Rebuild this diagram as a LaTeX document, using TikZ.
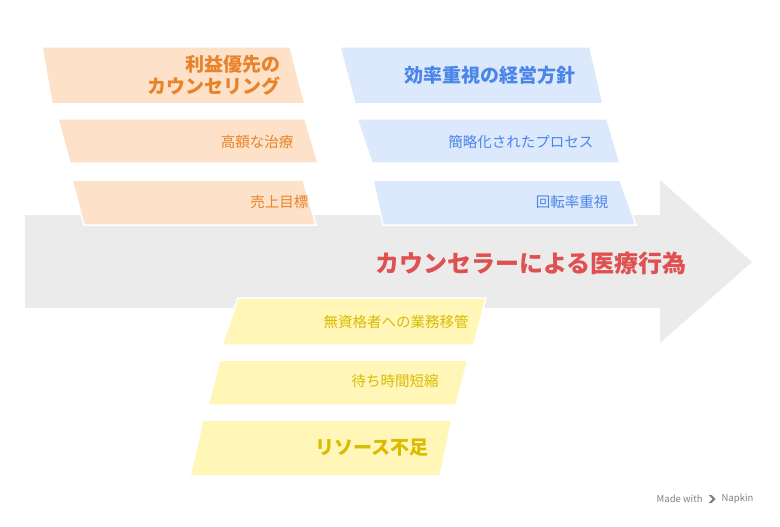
\documentclass[tikz,border=0pt]{standalone}
\usepackage{fontspec}
\setmainfont{Noto Sans CJK JP}
\definecolor{bandgray}{HTML}{EBEBEB}
\definecolor{orfill}{HTML}{FDE1C8}
\definecolor{ortext}{HTML}{E8832A}
\definecolor{blfill}{HTML}{DCE8FB}
\definecolor{bltext}{HTML}{4A86E8}
\definecolor{yefill}{HTML}{FFF6B8}
\definecolor{yetext}{HTML}{D9BC00}
\definecolor{titlered}{HTML}{E05050}
\tikzset{
  slab/.style={draw=white, line width=1.5pt},
  small/.style={font=\fontsize{14.5}{17}\selectfont},
  head/.style={font=\fontsize{19}{22}\selectfont\bfseries, align=right},
}
\begin{document}
\begin{tikzpicture}[x=1pt, y=-1pt]
  \useasboundingbox (0,0) rectangle (780,527);
  % band with arrow head
  \fill[bandgray] (25,215) -- (660,215) -- (660,180) -- (752,262)
    -- (660,343) -- (660,308) -- (25,308) -- cycle;

  % cost side
  \fill[orfill, slab] (42,47) -- (290,47) -- (305,104) -- (52,104) -- cycle;
  \fill[orfill, slab] (58,119) -- (305,119) -- (318,163) -- (70,163) -- cycle;
  \fill[orfill, slab] (72,180) -- (303,180) -- (316,225) -- (84,225) -- cycle;
  \node[head, text=ortext, anchor=east] (profit) at (284,75) {利益優先の\\カウンセリング};
  \node[small, text=ortext, anchor=east] (price) at (297,142) {高額な治療};
  \node[small, text=ortext, anchor=east] (sales) at (312,202) {売上目標};

  % efficiency side
  \fill[blfill, slab] (340,47) -- (590,47) -- (603,104) -- (355,104) -- cycle;
  \fill[blfill, slab] (357,119) -- (607,119) -- (620,163) -- (372,163) -- cycle;
  \fill[blfill, slab] (373,180) -- (620,180) -- (636,225) -- (383,225) -- cycle;
  \node[head, text=bltext] (policy) at (490,75) {効率重視の経営方針};
  \node[small, text=bltext, anchor=east] (simple) at (597,142) {簡略化されたプロセス};
  \node[small, text=bltext, anchor=east] (turn) at (612,202) {回転率重視};

  % resource side
  \fill[yefill, slab] (238,298) -- (486,298) -- (474,345) -- (222,345) -- cycle;
  \fill[yefill, slab] (220,360) -- (468,360) -- (456,405) -- (208,405) -- cycle;
  \fill[yefill, slab] (203,420) -- (452,420) -- (440,476) -- (190,476) -- cycle;
  \node[small, text=yetext] (shift) at (396,322) {無資格者への業務移管};
  \node[small, text=yetext] (wait) at (395,381) {待ち時間短縮};
  \node[head, text=yetext] (lack) at (372,448) {リソース不足};

  \node[font=\fontsize{24}{28}\selectfont\bfseries, text=titlered] (title) at (531,263) {カウンセラーによる医療行為};
  \node[font=\fontsize{9.5}{11}\selectfont, text=gray, anchor=east] (napkin) at (757,499) {Napkin};
  \fill[gray] ([xshift=-2.5pt]napkin.west) ++(-7,-4) -- ++(4,4) -- ++(-4,4) -- ++(3,0) -- ++(4,-4) -- ++(-4,-4) -- cycle;
  \node[font=\fontsize{9.5}{11}\selectfont, text=gray, anchor=east] (made) at ([xshift=-12pt]napkin.west) {Made with};
\end{tikzpicture}
\end{document}
